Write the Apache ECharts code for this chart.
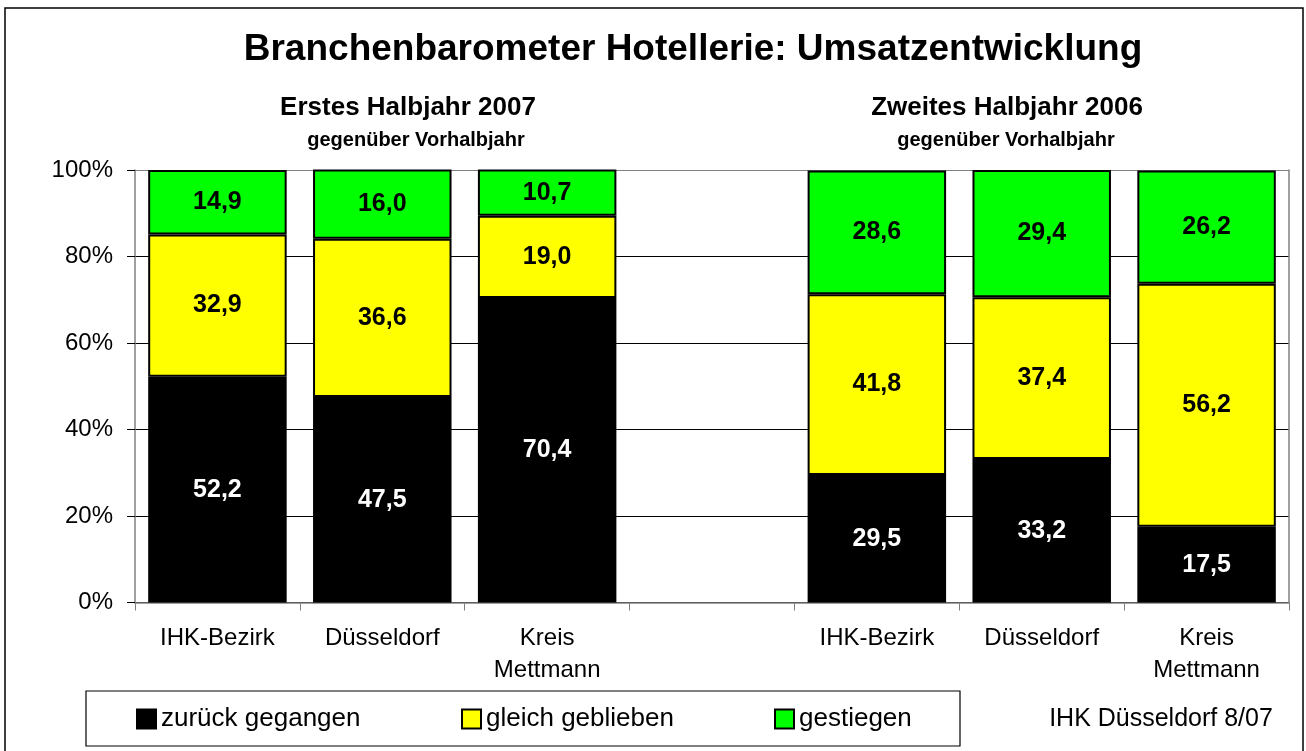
<!DOCTYPE html>
<html>
<head>
<meta charset="utf-8">
<script src="https://cdn.jsdelivr.net/npm/echarts@6/dist/echarts.min.js"></script>
<style>html,body{margin:0;padding:0;background:#fff}#c{width:1306px;height:751px}</style>
</head>
<body>
<div id="c"></div>
<script>
var categories = ['IHK-Bezirk', 'Düsseldorf', 'Kreis\nMettmann', '', 'IHK-Bezirk', 'Düsseldorf', 'Kreis\nMettmann'];
var zurueck = [52.2, 47.5, 70.4, null, 29.5, 33.2, 17.5];
var gleich = [32.9, 36.6, 19.0, null, 41.8, 37.4, 56.2];
var gestiegen = [14.9, 16.0, 10.7, null, 28.6, 29.4, 26.2];
var seriesNames = ['zurück gegangen', 'gleich geblieben', 'gestiegen'];
var yTicks = [0, 20, 40, 60, 80, 100];

var FONT = '"Liberation Sans", Arial, sans-serif';
var chart = echarts.init(document.getElementById('c'));

function fmt(p) { return p.value == null ? '' : p.value.toFixed(1).replace('.', ','); }

function mkSeries(name, data, color, labelColor) {
  return {
    name: name, type: 'bar', stack: 'total', data: data,
    barCategoryGap: '16%',
    itemStyle: { color: color, borderColor: '#000', borderWidth: 2 },
    label: { show: true, position: 'inside', formatter: fmt, color: labelColor,
      fontFamily: FONT, fontWeight: 'bold', fontSize: 25 },
    emphasis: { disabled: true }
  };
}

function mkLegend(name, left) {
  return {
    data: [name], left: left, top: 706, padding: 0, itemWidth: 19, itemHeight: 19,
    icon: 'rect', selectedMode: false,
    textStyle: { fontFamily: FONT, fontSize: 26, color: '#000' }
  };
}

chart.setOption({
  animation: false,
  backgroundColor: '#fff',
  grid: { left: 135, right: 17, top: 170, bottom: 148.5, containLabel: false },
  xAxis: {
    type: 'category', data: categories,
    axisLine: { lineStyle: { color: '#808080', width: 1.5 } },
    axisTick: { show: true, interval: 0, length: 8, lineStyle: { color: '#808080' } },
    axisLabel: { interval: 0, margin: 20, color: '#000', fontFamily: FONT, fontSize: 24, lineHeight: 32 }
  },
  yAxis: [{
    type: 'value', min: 0, max: 100, interval: 20,
    axisLine: { show: true, lineStyle: { color: '#808080', width: 1.5 } },
    axisTick: { show: true, length: 8, lineStyle: { color: '#000' } },
    axisLabel: { formatter: '{value}%', margin: 22, color: '#000', fontFamily: FONT, fontSize: 24 },
    splitLine: { show: true, lineStyle: { color: ['#000', '#000', '#000', '#000', '#000', '#808080'], width: 1 } }
  }, {
    type: 'value', min: 0, max: 100, interval: 20, position: 'right',
    axisLine: { show: true, lineStyle: { color: '#808080', width: 1.5 } },
    axisTick: { show: false }, axisLabel: { show: false }, splitLine: { show: false }
  }],
  legend: [mkLegend(seriesNames[0], 136), mkLegend(seriesNames[1], 461), mkLegend(seriesNames[2], 774)],
  series: [
    mkSeries(seriesNames[0], zurueck, '#000000', '#ffffff'),
    mkSeries(seriesNames[1], gleich, '#ffff00', '#000000'),
    mkSeries(seriesNames[2], gestiegen, '#00ff00', '#000000')
  ],
  graphic: [
    { type: 'rect', shape: { x: 5, y: 8, width: 1298, height: 760 }, style: { fill: null, stroke: '#000', lineWidth: 1.5 }, z: -1 },
    { type: 'rect', shape: { x: 86, y: 691, width: 874, height: 55 }, style: { fill: null, stroke: '#000', lineWidth: 1.2 }, z: -1 },
    { type: 'text', x: 693, y: 50, style: { text: 'Branchenbarometer Hotellerie: Umsatzentwicklung', font: 'bold 37px ' + FONT, fill: '#000', textAlign: 'center', textVerticalAlign: 'middle' } },
    { type: 'text', x: 408, y: 108, style: { text: 'Erstes Halbjahr 2007', font: 'bold 26px ' + FONT, fill: '#000', textAlign: 'center', textVerticalAlign: 'middle' } },
    { type: 'text', x: 416, y: 140, style: { text: 'gegenüber Vorhalbjahr', font: 'bold 20px ' + FONT, fill: '#000', textAlign: 'center', textVerticalAlign: 'middle' } },
    { type: 'text', x: 1007, y: 108, style: { text: 'Zweites Halbjahr 2006', font: 'bold 26px ' + FONT, fill: '#000', textAlign: 'center', textVerticalAlign: 'middle' } },
    { type: 'text', x: 1006, y: 140, style: { text: 'gegenüber Vorhalbjahr', font: 'bold 20px ' + FONT, fill: '#000', textAlign: 'center', textVerticalAlign: 'middle' } },
    { type: 'text', x: 1161, y: 719, style: { text: 'IHK Düsseldorf 8/07', font: '25px ' + FONT, fill: '#000', textAlign: 'center', textVerticalAlign: 'middle' } }
  ]
});
</script>
</body>
</html>
